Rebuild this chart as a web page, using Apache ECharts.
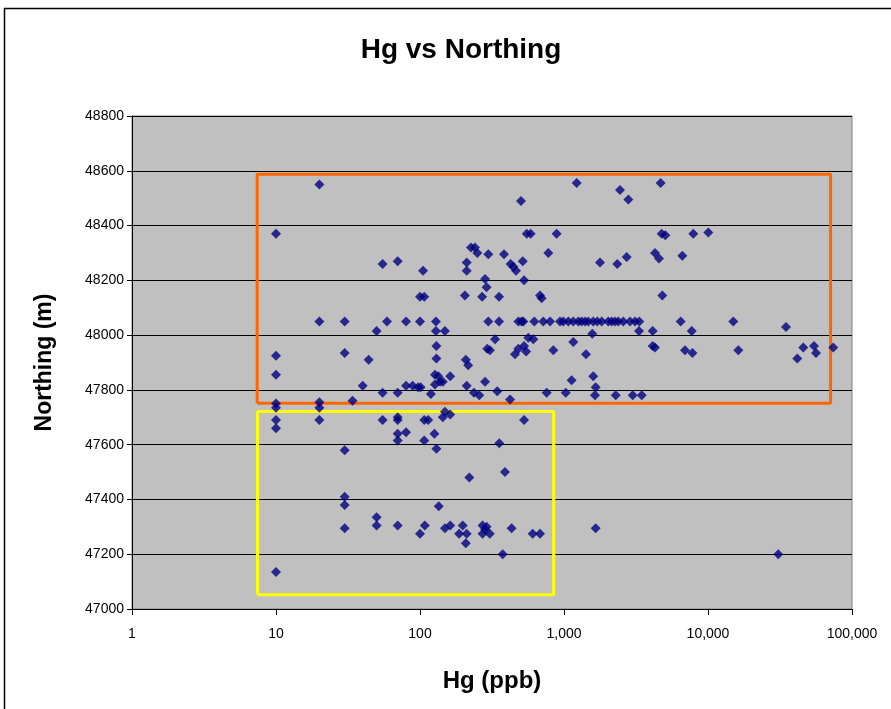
<!DOCTYPE html>
<html>
<head>
<meta charset="utf-8">
<title>Hg vs Northing</title>
<script src="https://cdn.jsdelivr.net/npm/echarts@6/dist/echarts.min.js"></script>
<style>
	html, body { margin: 0; padding: 0; background: #fff; }
	#chart { width: 891px; height: 709px; }
</style>
</head>
<body>
<div id="chart"></div>
<script>
// 样品 Hg (ppb) 与北坐标 (m)，按顺序一一对应
var hgValues = [
	10, 10, 10, 10, 10, 10, 10, 10,
	20, 20, 20, 20, 20,
	30, 30, 30, 30, 30, 30,
	34, 40, 44, 50, 50, 50, 55, 55, 55, 59,
	70, 70, 70, 70, 70, 70, 70,
	80, 80, 80, 89, 97, 100, 100, 101, 100,
	105, 107, 107, 107, 108, 114, 119, 126, 127, 127,
	129, 129, 130, 130, 130, 134, 135, 138, 144, 144,
	149, 149, 149, 162, 162, 162, 187, 198, 205, 208,
	208, 211, 211, 211, 211, 216, 220, 226, 237, 241,
	250, 258, 270, 272, 272, 283, 283, 283, 290, 290,
	293, 298, 298, 305, 306, 332, 344, 354, 354, 355,
	375, 383, 389, 422, 426, 433, 445, 457, 464, 482,
	482, 508, 517, 522, 503, 528, 528, 528, 546, 551,
	565, 587, 606, 612, 622, 681, 681, 700, 718, 758,
	778, 800, 843, 889, 938, 989, 1028, 1072, 1130, 1161,
	1161, 1225, 1258, 1327, 1400, 1422, 1475, 1573, 1597, 1597,
	1641, 1660, 1660, 1703, 1778, 1828, 2031, 2144, 2260, 2287,
	2344, 2384, 2449, 2582, 2724, 2798, 2872, 2998, 3112, 3319,
	3334, 3466, 4130, 4130, 4285, 4285, 4570, 4690, 4768, 4816,
	5054, 6460, 6635, 6920, 7710, 7800, 7907, 10050, 14990, 16240,
	30760, 34820, 41690, 45900, 54450, 56230, 74130
];
var northingValues = [
	48370, 47925, 47855, 47750, 47735, 47690, 47660, 47135,
	48550, 48050, 47755, 47735, 47690,
	48050, 47935, 47580, 47410, 47380, 47295,
	47760, 47815, 47910, 48015, 47335, 47305, 48260, 47790, 47690, 48050,
	48270, 47790, 47690, 47700, 47640, 47615, 47305,
	48050, 47815, 47645, 47815, 47810, 48140, 48050, 47810, 47275,
	48235, 48140, 47690, 47615, 47305, 47690, 47785, 47640, 47855, 47820,
	48050, 48015, 47960, 47915, 47585, 47850, 47375, 47830, 47830, 47700,
	48015, 47720, 47295, 47850, 47710, 47305, 47275, 47305, 48145, 47910,
	47240, 48265, 48235, 47815, 47275, 47890, 47480, 48320, 47790, 48320,
	48300, 47780, 48140, 47305, 47275, 48205, 47830, 47290, 48175, 47300,
	47950, 48295, 48050, 47275, 47945, 47985, 47795, 48140, 48050, 47605,
	47200, 48295, 47500, 47765, 48260, 47295, 48250, 47930, 48235, 48050,
	47950, 48050, 48270, 48050, 48490, 48200, 47960, 47690, 47940, 48370,
	47990, 48370, 47275, 47985, 48050, 48145, 47275, 48135, 48050, 47790,
	48300, 48050, 47945, 48370, 48050, 48050, 47790, 48050, 47835, 48050,
	47975, 48555, 48050, 48050, 48050, 47930, 48050, 48005, 48050, 47850,
	47780, 47810, 47295, 48050, 48265, 48050, 48050, 48050, 48050, 47780,
	48260, 48050, 48530, 48050, 48285, 48495, 48050, 47780, 48050, 48015,
	48050, 47780, 48015, 47960, 48300, 47955, 48280, 48555, 48370, 48145,
	48365, 48050, 48290, 47945, 48015, 47935, 48370, 48375, 48050, 47945,
	47200, 48030, 47915, 47955, 47960, 47935, 47955
];

// 标注框：[Hg 左, Hg 右, 北坐标 下, 北坐标 上]
var orangeBox = [7.4, 71000, 47751, 48587];
var yellowBox = [7.45, 848, 47052, 47721];

// 坐标轴刻度
var northingTicks = [47000, 47200, 47400, 47600, 47800, 48000, 48200, 48400, 48600, 48800];
var hgTicks = [1, 10, 100, 1000, 10000, 100000];

var FONT = 'Liberation Sans, Arial, sans-serif';

function boxPath(b) {
	return [[b[0], b[2]], [b[1], b[2]], [b[1], b[3]], [b[0], b[3]], [b[0], b[2]]];
}

var points = [];
for (var i = 0; i < hgValues.length; i++) {
	points.push([hgValues[i], northingValues[i]]);
}

var chart = echarts.init(document.getElementById('chart'));

var option = {
	animation: false,
	backgroundColor: '#fff',
	title: {
		text: 'Hg vs Northing',
		left: 456,
		top: 31,
		textAlign: 'center',
		textStyle: {
			fontFamily: FONT,
			fontSize: 28,
			fontWeight: 'bold',
			color: '#000'
		}
	},
	graphic: [{
		// 图表外框
		type: 'rect',
		shape: { x: 4.5, y: 8.5, width: 1000, height: 800 },
		style: { fill: 'none', stroke: '#000', lineWidth: 1.5 },
		silent: true,
		z: -1
	}],
	grid: {
		show: true,
		left: 132,
		top: 116,
		right: 39,
		bottom: 100,
		backgroundColor: '#C0C0C0',
		borderColor: '#808080',
		borderWidth: 1
	},
	xAxis: {
		type: 'log',
		logBase: 10,
		min: hgTicks[0],
		max: hgTicks[hgTicks.length - 1],
		name: 'Hg (ppb)',
		nameLocation: 'middle',
		nameGap: 60,
		nameTextStyle: { fontFamily: FONT, fontSize: 24, fontWeight: 'bold', color: '#000' },
		axisLine: { onZero: false, lineStyle: { color: '#000', width: 1 } },
		axisTick: { show: true, length: 6, lineStyle: { color: '#000' } },
		minorTick: { show: false },
		splitLine: { show: false },
		axisLabel: {
			margin: 18,
			fontFamily: FONT,
			fontSize: 14,
			color: '#000',
			formatter: function(v) {
				return Math.round(v).toLocaleString('en-US');
			}
		}
	},
	yAxis: {
		type: 'value',
		min: northingTicks[0],
		max: northingTicks[northingTicks.length - 1],
		interval: 200,
		name: 'Northing (m)',
		nameLocation: 'middle',
		nameGap: 76,
		nameRotate: 90,
		nameTextStyle: { fontFamily: FONT, fontSize: 23, fontWeight: 'bold', color: '#000' },
		axisLine: { show: true, lineStyle: { color: '#000', width: 1 } },
		axisTick: { show: true, length: 5, lineStyle: { color: '#000' } },
		splitLine: { show: true, lineStyle: { color: '#000', width: 1 } },
		axisLabel: {
			margin: 8,
			fontFamily: FONT,
			fontSize: 14,
			color: '#000',
			formatter: function(v) {
				return String(v);
			}
		}
	},
	series: [{
		name: 'orange box',
		type: 'line',
		data: boxPath(orangeBox),
		symbol: 'none',
		silent: true,
		lineStyle: { color: '#FF6600', width: 3 },
		z: 1
	}, {
		name: 'yellow box',
		type: 'line',
		data: boxPath(yellowBox),
		symbol: 'none',
		silent: true,
		lineStyle: { color: '#FFFF00', width: 3 },
		z: 1
	}, {
		name: 'Hg',
		type: 'scatter',
		data: points,
		symbol: 'diamond',
		symbolSize: [10, 10],
		itemStyle: { color: '#000080' },
		z: 3
	}]
};

chart.setOption(option);
</script>
</body>
</html>
